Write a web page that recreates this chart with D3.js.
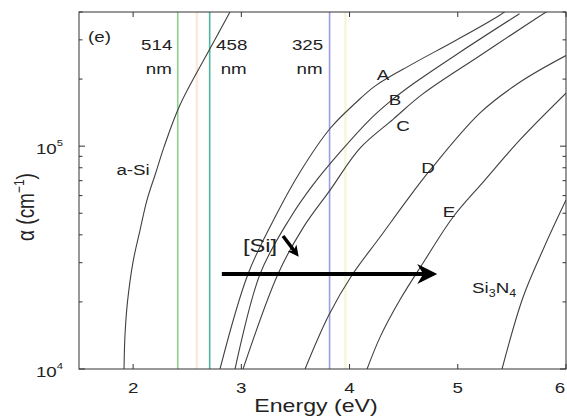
<!DOCTYPE html>
<html><head><meta charset="utf-8">
<script src="https://cdn.jsdelivr.net/npm/d3@7"></script>
<style>
body{margin:0;background:#fff;}
svg{display:block;font-family:"Liberation Sans",Arial,sans-serif;}
</style>
</head><body>
<svg id="c" width="567" height="419"></svg>
<script>
// ---------- data ----------
const xTicks = [2, 3, 4, 5, 6];
const yMajor = [1e4, 1e5];
const yMinor = [2e4, 3e4, 4e4, 5e4, 6e4, 7e4, 8e4, 9e4, 2e5, 3e5, 4e5];

const seriesNames = ["a-Si", "A", "B", "C", "D", "E", "Si3N4"];
const aSiE = [1.916, 1.925, 1.948, 1.999, 2.064, 2.128, 2.212, 2.285, 2.433, 2.72, 2.895];
const aSiA = [1e4, 1.42e4, 2.0e4, 3.02e4, 4.2e4, 5.73e4, 7.66e4, 9.9e4, 1.53e5, 2.79e5, 4.0e5];
const A_E = [2.803, 3.062, 3.33, 3.543, 3.82, 4.06, 4.241, 4.583, 4.98, 5.38, 5.49];
const A_A = [1e4, 2.67e4, 5.0e4, 7.66e4, 1.20e5, 1.57e5, 1.87e5, 2.34e5, 2.98e5, 3.85e5, 4.2e5];
const B_E = [2.942, 3.173, 3.45, 3.662, 3.912, 4.19, 4.37, 4.585, 5.02, 5.57];
const B_A = [1e4, 2.67e4, 4.75e4, 6.70e4, 9.4e4, 1.32e5, 1.58e5, 1.90e5, 2.64e5, 3.93e5];
const C_E = [3.016, 3.339, 3.57, 3.82, 4.097, 4.402, 4.68, 5.20, 5.66, 5.85];
const C_A = [1e4, 2.67e4, 4.3e4, 6.35e4, 9.8e4, 1.32e5, 1.72e5, 2.54e5, 3.57e5, 4.1e5];
const D_E = [3.589, 3.81, 4.023, 4.282, 4.531, 4.744, 5.206, 5.576, 6.0];
const D_A = [1e4, 1.75e4, 2.64e4, 3.91e4, 5.73e4, 7.8e4, 1.41e5, 1.94e5, 2.55e5];
const E_E = [4.162, 4.282, 4.467, 4.679, 4.957, 5.234, 5.576, 6.0];
const E_A = [1e4, 1.39e4, 2.05e4, 2.99e4, 4.81e4, 6.9e4, 1.07e5, 1.73e5];
const SiN_E = [5.409, 5.603, 5.807, 6.0];
const SiN_A = [1e4, 2.10e4, 3.60e4, 5.73e4];

const laserNm = [514, 458, 325];
const laserLabels = ["514", "458", "325"];
const faintNm = [479, 313];

// ---------- layout ----------
const L = 79, R = 566, T = 12, B = 369;
const SX = 1.25;               // horizontal stretch of the text
const svg = d3.select("#c");
const x = d3.scaleLinear().domain([1.5, 6]).range([L, R]);
const y = d3.scaleLog().domain([1e4, 4e5]).range([B, T]);
const eV = nm => 1240 / nm;

const defs = svg.append("defs");
defs.append("clipPath").attr("id", "clip")
  .append("rect").attr("x", L).attr("y", T).attr("width", R - L).attr("height", B - T);

const plot = svg.append("g").attr("clip-path", "url(#clip)");

// faint lines
plot.selectAll(".faint").data(faintNm).enter().append("line")
  .attr("x1", d => x(eV(d))).attr("x2", d => x(eV(d)))
  .attr("y1", T).attr("y2", B)
  .attr("stroke", (d, i) => i === 0 ? "#fbe9da" : "#f8f6d6").attr("stroke-width", 2.5);

// laser lines
const laserColors = ["#8fd18f", "#4fb3a3", "#9c9ce8"];
plot.selectAll(".laser").data(laserNm).enter().append("line")
  .attr("x1", d => x(eV(d))).attr("x2", d => x(eV(d)))
  .attr("y1", T).attr("y2", B)
  .attr("stroke", (d, i) => laserColors[i]).attr("stroke-width", 1.6);

// curves
const seriesE = [aSiE, A_E, B_E, C_E, D_E, E_E, SiN_E];
const seriesA = [aSiA, A_A, B_A, C_A, D_A, E_A, SiN_A];
const line = d3.line().x(d => x(d[0])).y(d => y(d[1])).curve(d3.curveCatmullRom.alpha(0.5));
seriesNames.forEach((n, i) => {
  const pts = seriesE[i].map((e, j) => [e, seriesA[i][j]]);
  plot.append("path").datum(pts).attr("d", line)
    .attr("fill", "none").attr("stroke", "#404040").attr("stroke-width", 1.1);
});

// ---------- axes box & ticks ----------
const ax = svg.append("g").attr("stroke", "#333").attr("stroke-width", 1);
ax.append("rect").attr("x", L).attr("y", T).attr("width", R - L).attr("height", B - T)
  .attr("fill", "none");
xTicks.forEach(t => {
  const px = x(t);
  ax.append("line").attr("x1", px).attr("x2", px).attr("y1", B).attr("y2", B - 5);
  ax.append("line").attr("x1", px).attr("x2", px).attr("y1", T).attr("y2", T + 5);
});
yMajor.forEach(t => {
  const py = y(t);
  ax.append("line").attr("x1", L).attr("x2", L + 6).attr("y1", py).attr("y2", py);
  ax.append("line").attr("x1", R).attr("x2", R - 6).attr("y1", py).attr("y2", py);
});
yMinor.forEach(t => {
  const py = y(t);
  ax.append("line").attr("x1", L).attr("x2", L + 3.5).attr("y1", py).attr("y2", py);
  ax.append("line").attr("x1", R).attr("x2", R - 3.5).attr("y1", py).attr("y2", py);
});

// ---------- text helper ----------
function txt(px, py, s, size, anchor, extra) {
  const t = svg.append("text")
    .attr("transform", `translate(${px},${py}) scale(${SX},1)`)
    .attr("font-size", size).attr("text-anchor", anchor || "middle")
    .attr("fill", "#222");
  if (extra) extra(t); else t.text(s);
  return t;
}

// tick labels
xTicks.forEach(t => txt(Math.min(x(t), 560), 393, String(t), 15));
yMajor.forEach(t => {
  const exp = Math.round(Math.log10(t));
  txt(63, y(t) + 7.5, "", 15, "end", s => {
    s.append("tspan").text("10");
    s.append("tspan").attr("font-size", 9).attr("dy", -8).text(exp);
  });
});

// axis labels
txt(316, 412, "Energy (eV)", 18.5);
svg.append("text")
  .attr("transform", `translate(34,207) scale(${SX},1) rotate(-90)`)
  .attr("font-size", 19).attr("text-anchor", "middle").attr("fill", "#222")
  .call(s => {
    s.append("tspan").text("α (cm");
    s.append("tspan").attr("font-size", 12).attr("dy", -8).text("−1");
    s.append("tspan").attr("dy", 8).text(")");
  });

// panel label
txt(L + 9, 42, "(e)", 15, "start");

// laser labels
const laserOff = [-21, 22, -22];
laserNm.forEach((nm, i) => {
  const px = x(eV(nm)) + laserOff[i];
  txt(px, 50, laserLabels[i], 15);
  txt(px + 2, 74, "nm", 15);
});

// curve labels (data coordinates)
const curveLabels = ["A", "B", "C", "D", "E"];
const curveLabE = [4.31, 4.42, 4.494, 4.725, 4.92];
const curveLabA = [2.08e5, 1.61e5, 1.23e5, 7.98e4, 5.06e4];
curveLabels.forEach((c, i) => txt(x(curveLabE[i]), y(curveLabA[i]) + 5, c, 15));

txt(x(2.0), y(7.8e4) + 5, "a-Si", 15);
txt(x(5.132), y(2.31e4) + 5, "", 15, "start", s => {
  s.append("tspan").text("Si");
  s.append("tspan").attr("font-size", 10).attr("dy", 4).text("3");
  s.append("tspan").attr("dy", -4).text("N");
  s.append("tspan").attr("font-size", 10).attr("dy", 4).text("4");
});

// [Si] label and arrow
txt(x(3.173), y(3.6e4) + 7, "[Si]", 19);
const siArrowE = [3.385, 3.505], siArrowA = [3.95e4, 3.31e4];
defs.append("marker").attr("id", "hd").attr("viewBox", "0 0 10 10")
  .attr("refX", 6).attr("refY", 5).attr("markerWidth", 3.2).attr("markerHeight", 3.2)
  .attr("orient", "auto").append("path").attr("d", "M0,0 L10,5 L0,10 L3,5 Z").attr("fill", "#000");
svg.append("line")
  .attr("x1", x(siArrowE[0])).attr("y1", y(siArrowA[0]))
  .attr("x2", x(siArrowE[1])).attr("y2", y(siArrowA[1]))
  .attr("stroke", "#000").attr("stroke-width", 3.5).attr("marker-end", "url(#hd)");

// big horizontal arrow
const bigArrowE = [2.82, 4.81], bigArrowA = 2.67e4;
const ay = y(bigArrowA), ax0 = x(bigArrowE[0]), ax1 = x(bigArrowE[1]);
svg.append("line").attr("x1", ax0).attr("x2", ax1 - 4).attr("y1", ay).attr("y2", ay)
  .attr("stroke", "#000").attr("stroke-width", 4);
svg.append("path")
  .attr("d", `M${ax1},${ay} L${ax1 - 20},${ay - 10} L${ax1 - 14},${ay} L${ax1 - 20},${ay + 10} Z`)
  .attr("fill", "#000");
</script>
</body></html>
